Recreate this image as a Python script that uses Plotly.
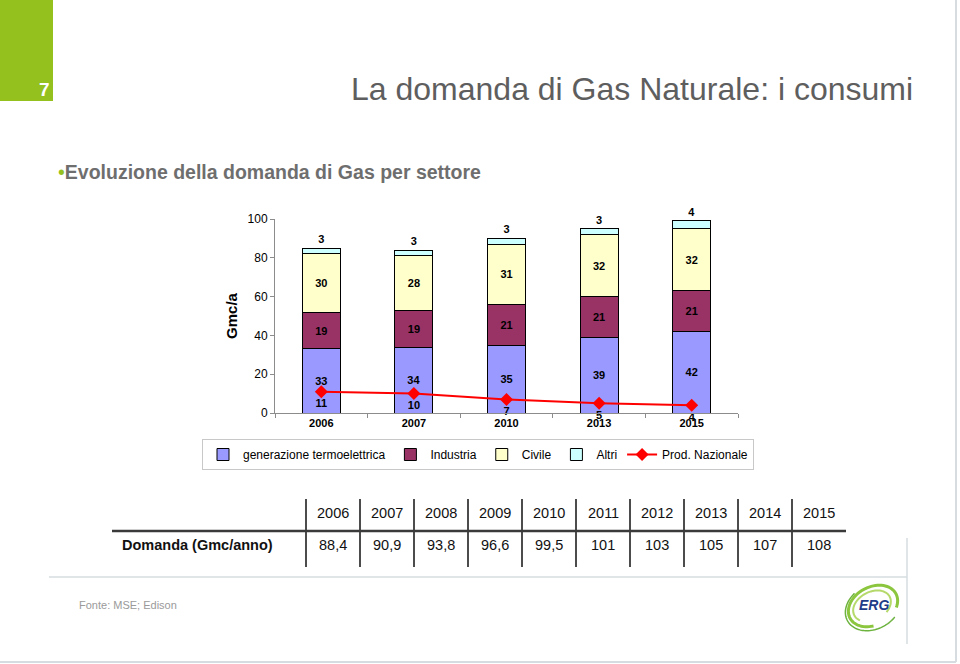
import numpy as np
import plotly.graph_objects as go

# ---------------- data ----------------
years = ["2006", "2007", "2010", "2013", "2015"]
termo = [33, 34, 35, 39, 42]
industria = [19, 19, 21, 21, 21]
civile = [30, 28, 31, 32, 32]
altri = [3, 3, 3, 3, 4]
prod_naz = [11, 10, 7, 5, 4]

table_years = ["2006", "2007", "2008", "2009", "2010", "2011", "2012", "2013", "2014", "2015"]
table_values = ["88,4", "90,9", "93,8", "96,6", "99,5", "101", "103", "105", "107", "108"]

# ---------------- layout geometry (pixels) ----------------
W, H = 960, 664
PX0, PX1 = 275, 738   # plot area x
PY0, PY1 = 413, 219   # plot area y (bottom, top)


def px(x):
    return x / W


def py(y):
    return 1 - y / H


FONT = "Arial, Liberation Sans, sans-serif"
bold = lambda vals: [f"<b>{v}</b>" for v in vals]

fig = go.Figure()

bar_common = dict(width=0.41, marker_line=dict(color="#000000", width=1),
                  textfont=dict(family=FONT, size=11, color="#000000"),
                  hoverinfo="skip")

fig.add_trace(go.Bar(name="generazione termoelettrica", x=years, y=termo, text=bold(termo),
                     textposition="inside", insidetextanchor="middle", textangle=0,
                     marker_color="#9999FF", **bar_common))
fig.add_trace(go.Bar(name="Industria", x=years, y=industria, text=bold(industria),
                     textposition="inside", insidetextanchor="middle", textangle=0,
                     marker_color="#993366", **bar_common))
fig.add_trace(go.Bar(name="Civile", x=years, y=civile, text=bold(civile),
                     textposition="inside", insidetextanchor="middle", textangle=0,
                     marker_color="#FFFFCC", **bar_common))
fig.add_trace(go.Bar(name="Altri", x=years, y=altri, text=bold(altri),
                     textposition="outside", textangle=0, cliponaxis=False,
                     marker_color="#CCFFFF", **bar_common))
fig.add_trace(go.Scatter(name="Prod. Nazionale", x=years, y=prod_naz, text=bold(prod_naz),
                         mode="lines+markers+text", textposition="bottom center",
                         textfont=dict(family=FONT, size=11, color="#000000"),
                         line=dict(color="#FF0000", width=2),
                         marker=dict(symbol="diamond", size=10, color="#FF0000"),
                         cliponaxis=False, hoverinfo="skip"))

shapes = []
annotations = []

# green number box
shapes.append(dict(type="rect", xref="paper", yref="paper", x0=px(0), x1=px(53), y0=py(101), y1=py(0),
                   fillcolor="#95C11F", line=dict(width=0), layer="below"))
annotations.append(dict(xref="paper", yref="paper", x=px(44), y=py(89), text="<b>7</b>", showarrow=False,
                        xanchor="center", yanchor="middle", font=dict(family=FONT, size=19, color="white")))

# title
annotations.append(dict(xref="paper", yref="paper", x=px(349), y=py(89),
                        text="La domanda di Gas Naturale: i consumi", showarrow=False,
                        xanchor="left", yanchor="middle", font=dict(family=FONT, size=32, color="#5e5e5e")))
# subtitle
annotations.append(dict(xref="paper", yref="paper", x=px(56), y=py(172),
                        text="<span style='color:#95C11F'>•</span><b>Evoluzione della domanda di Gas per settore</b>",
                        showarrow=False, xanchor="left", yanchor="middle",
                        font=dict(family=FONT, size=19.5, color="#6e6e6e")))

# table
col0, colw = 306, 54
for i, (yr, val) in enumerate(zip(table_years, table_values)):
    cx = col0 + colw / 2 + colw * i
    annotations.append(dict(xref="paper", yref="paper", x=px(cx), y=py(513), text=yr, showarrow=False,
                            xanchor="center", yanchor="middle", font=dict(family=FONT, size=14.5, color="#111")))
    annotations.append(dict(xref="paper", yref="paper", x=px(cx), y=py(545), text=val, showarrow=False,
                            xanchor="center", yanchor="middle", font=dict(family=FONT, size=14.5, color="#111")))
    shapes.append(dict(type="line", xref="paper", yref="paper", x0=px(col0 + colw * i), x1=px(col0 + colw * i),
                       y0=py(499), y1=py(567), line=dict(color="#111", width=1.5)))
annotations.append(dict(xref="paper", yref="paper", x=px(197), y=py(545), text="<b>Domanda (Gmc/anno)</b>",
                        showarrow=False, xanchor="center", yanchor="middle",
                        font=dict(family=FONT, size=14.5, color="#111")))
shapes.append(dict(type="line", xref="paper", yref="paper", x0=px(112), x1=px(846), y0=py(531), y1=py(531),
                   line=dict(color="#3a3a3a", width=2.5)))

# light separator lines / frame
gray = "#d6dce0"
shapes.append(dict(type="line", xref="paper", yref="paper", x0=px(49), x1=px(907), y0=py(577), y1=py(577),
                   line=dict(color=gray, width=1.5)))
shapes.append(dict(type="line", xref="paper", yref="paper", x0=px(907), x1=px(907), y0=py(538), y1=py(644),
                   line=dict(color=gray, width=1.5)))
shapes.append(dict(type="line", xref="paper", yref="paper", x0=px(956), x1=px(956), y0=py(0), y1=py(662),
                   line=dict(color=gray, width=2)))
shapes.append(dict(type="line", xref="paper", yref="paper", x0=px(0), x1=px(956), y0=py(662), y1=py(662),
                   line=dict(color=gray, width=2)))

# source
annotations.append(dict(xref="paper", yref="paper", x=px(77), y=py(605), text="Fonte: MSE; Edison",
                        showarrow=False, xanchor="left", yanchor="middle",
                        font=dict(family=FONT, size=11, color="#9a9a9a")))


# ERG logo (decorative swirl)
def ellipse_path(cx, cy, rx, ry, rot_deg, a0, a1, n=60):
    t = np.radians(np.linspace(a0, a1, n))
    r = np.radians(rot_deg)
    xs = cx + rx * np.cos(t) * np.cos(r) - ry * np.sin(t) * np.sin(r)
    ys = cy + rx * np.cos(t) * np.sin(r) + ry * np.sin(t) * np.cos(r)
    pts = [f"{px(x):.5f},{py(y):.5f}" for x, y in zip(xs, ys)]
    return "M" + " L".join(pts)


shapes.append(dict(type="path", xref="paper", yref="paper", path=ellipse_path(873, 606, 26, 19, -28, 110, 400),
                   line=dict(color="#8CC63F", width=3)))
shapes.append(dict(type="path", xref="paper", yref="paper", path=ellipse_path(872, 606, 20, 14, -28, 150, 420),
                   line=dict(color="#B5D96A", width=2)))
shapes.append(dict(type="path", xref="paper", yref="paper", path=ellipse_path(873, 607, 29, 22, -28, 60, 250),
                   line=dict(color="#6DB33F", width=1.5)))
annotations.append(dict(xref="paper", yref="paper", x=px(874), y=py(605), text="<b><i>ERG</i></b>",
                        showarrow=False, xanchor="center", yanchor="middle",
                        font=dict(family=FONT, size=14, color="#1F3C88")))

fig.update_layout(
    width=W, height=H, autosize=False,
    margin=dict(l=0, r=0, t=0, b=0, pad=0, autoexpand=False),
    paper_bgcolor="white", plot_bgcolor="white",
    barmode="stack", bargap=0.59,
    font=dict(family=FONT, color="#000"),
    showlegend=True,
    legend=dict(orientation="h", x=px(478), y=py(439), xanchor="center", yanchor="top",
                bordercolor="#c8c8c8", borderwidth=1, bgcolor="white",
                font=dict(family=FONT, size=12, color="#000"), itemwidth=30,
                traceorder="normal"),
    xaxis=dict(type="category", categoryorder="array", categoryarray=years,
               domain=[px(PX0), px(PX1)],
               showline=True, linecolor="#8c8c8c", linewidth=1,
               ticks="outside", tickson="boundaries", ticklen=4, tickcolor="#8c8c8c",
               tickfont=dict(family=FONT, size=11, color="#000", weight="bold"),
               showgrid=False, zeroline=False, fixedrange=True, automargin=False),
    yaxis=dict(range=[0, 100], tickvals=[0, 20, 40, 60, 80, 100],
               domain=[py(PY0), py(PY1)],
               showline=True, linecolor="#8c8c8c", linewidth=1,
               ticks="outside", ticklen=4, tickcolor="#8c8c8c",
               tickfont=dict(family=FONT, size=12, color="#000"),
               title=dict(text="<b>Gmc/a</b>", font=dict(family=FONT, size=15, color="#000"), standoff=6),
               showgrid=False, zeroline=False, fixedrange=True, automargin=False),
    shapes=shapes,
    annotations=annotations,
    hovermode=False,
)

fig.write_html("out.html", config={"displayModeBar": False},
               post_script="document.body.style.margin='0';document.body.style.overflow='hidden';")
